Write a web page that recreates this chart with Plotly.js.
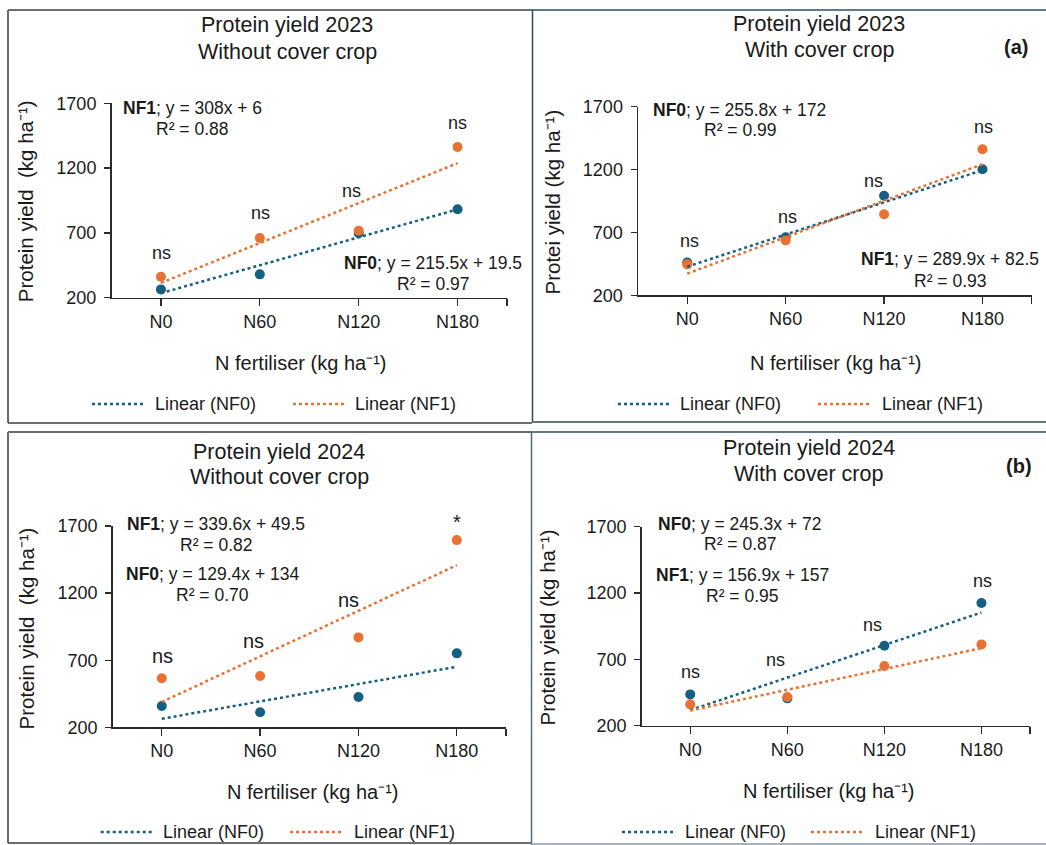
<!DOCTYPE html>
<html>
<head>
<meta charset="utf-8">
<script src="https://cdn.plot.ly/plotly-3.0.1.min.js"></script>
<style>html,body{margin:0;padding:0;background:#fff;}#chart{width:1046px;height:845px;}</style>
</head>
<body>
<div id="chart"></div>
<script>
// ---------- data ----------
const categories = ['N0', 'N60', 'N120', 'N180'];
const yTicks = [200, 700, 1200, 1700];

// Protein yield (kg ha-1)
const yield2023_noCover_NF0 = [264, 380, 697, 882];
const yield2023_noCover_NF1 = [362, 661, 717, 1363];
const yield2023_cover_NF0   = [460, 661, 992, 1202];
const yield2023_cover_NF1   = [446, 637, 844, 1361];
const yield2024_noCover_NF0 = [359, 312, 426, 751];
const yield2024_noCover_NF1 = [565, 582, 870, 1595];
const yield2024_cover_NF0   = [436, 406, 803, 1125];
const yield2024_cover_NF1   = [361, 416, 650, 813];

// linear trend coefficients (from the equations printed on the chart)
const slopeNF0     = [215.5, 255.8, 129.4, 245.3];
const interceptNF0 = [19.5, 172, 134, 72];
const slopeNF1     = [308, 289.9, 339.6, 156.9];
const interceptNF1 = [6, 82.5, 49.5, 157];

const panelTitles = [
  ['Protein yield 2023', 'Without cover crop'],
  ['Protein yield 2023', 'With cover crop'],
  ['Protein yield 2024', 'Without cover crop'],
  ['Protein yield 2024', 'With cover crop']
];
const yTitles = ['Protein yield  (kg ha⁻¹)', 'Protei yield (kg ha⁻¹)', 'Protein yield  (kg ha⁻¹)', 'Protein yield (kg ha⁻¹)'];
const xTitle = 'N fertiliser (kg ha⁻¹)';
const eqNF0 = ['<b>NF0</b>; y = 215.5x + 19.5', '<b>NF0</b>; y = 255.8x + 172', '<b>NF0</b>; y = 129.4x + 134', '<b>NF0</b>; y = 245.3x + 72'];
const r2NF0 = ['R² = 0.97', 'R² = 0.99', 'R² = 0.70', 'R² = 0.87'];
const eqNF1 = ['<b>NF1</b>; y = 308x + 6', '<b>NF1</b>; y = 289.9x + 82.5', '<b>NF1</b>; y = 339.6x + 49.5', '<b>NF1</b>; y = 156.9x + 157'];
const r2NF1 = ['R² = 0.88', 'R² = 0.93', 'R² = 0.82', 'R² = 0.95'];
const sigLabels = [
  ['ns', 'ns', 'ns', 'ns'],
  ['ns', 'ns', 'ns', 'ns'],
  ['ns', 'ns', 'ns', '*'],
  ['ns', 'ns', 'ns', 'ns']
];
const legendLabels = ['Linear (NF0)', 'Linear (NF1)'];

const seriesNF0 = [yield2023_noCover_NF0, yield2023_cover_NF0, yield2024_noCover_NF0, yield2024_cover_NF0];
const seriesNF1 = [yield2023_noCover_NF1, yield2023_cover_NF1, yield2024_noCover_NF1, yield2024_cover_NF1];

// ---------- layout geometry (pixels) ----------
const W = 1046, H = 845;
const BLUE = '#156082', ORANGE = '#E97132', INK = '#1a1a1a', AX = '#2b2b2b';
const FONT = 'Liberation Sans, Arial, sans-serif';
const PX = x => x / W;
const PY = y => 1 - y / H;

const geo = [
  { x0: 111.5, x1: 507, yTop: 103.3, yBot: 297.7,
    title: [287.3, 25, 51.7], tfs: 21.5,
    eqA: [192, 108.3, 129.3], eqB: [432.6, 263.3, 284], eqTopIsNF1: true,
    sig: [[161, 253.3], [260, 213.3], [351, 190.7], [457, 122.7]], sfs: 18,
    xt: [300, 363.3], yt: [25.4, 200.8],
    leg: { y: 404, l1: [92, 145], t1: 153, l2: [293, 347], t2: 353 } },
  { x0: 638, x1: 1031.7, yTop: 106.7, yBot: 295.3,
    title: [819, 24, 50], tfs: 21.5,
    eqA: [739.5, 110, 130], eqB: [950, 259, 281], eqTopIsNF1: false,
    sig: [[689, 241], [787, 217.3], [873, 180.7], [983, 126.7]], sfs: 18,
    xt: [835, 363.3], yt: [552, 202.5],
    leg: { y: 404, l1: [618, 670], t1: 678, l2: [818, 870], t2: 880 },
    tag: ['(a)', 1016, 47] },
  { x0: 112.6, x1: 506, yTop: 526, yBot: 727.3,
    title: [279.4, 451.7, 477.3], tfs: 21.5,
    eqA: [216.3, 524, 545], eqB: [212.6, 574, 595], eqTopIsNF1: true,
    sig: [[162, 656], [253.5, 640.7], [348, 600], [457, 522]], sfs: 20,
    xt: [312.6, 791.7], yt: [26.4, 628],
    leg: { y: 832, l1: [100.7, 152.8], t1: 160.6, l2: [290, 343], t2: 351.5 } },
  { x0: 641.7, x1: 1030, yTop: 526.7, yBot: 725.7,
    title: [808.5, 448, 474], tfs: 21.5,
    eqA: [739.5, 524, 544.3], eqB: [742, 575, 596], eqTopIsNF1: false,
    sig: [[690, 671.7], [775, 660], [872.7, 625], [982, 580.7]], sfs: 18,
    xt: [828, 791], yt: [547, 627.5],
    leg: { y: 832, l1: [622, 674], t1: 683, l2: [811, 863], t2: 873 },
    tag: ['(b)', 1019, 466] }
];

const traces = [];
const layout = {
  width: W, height: H,
  margin: { l: 0, r: 0, t: 0, b: 0 },
  paper_bgcolor: '#fff', plot_bgcolor: 'rgba(0,0,0,0)',
  showlegend: false,
  font: { family: FONT, color: INK },
  annotations: [], shapes: []
};

const xIdx = categories.map((c, i) => i);

function ann(text, x, y, size, extra) {
  layout.annotations.push(Object.assign({
    text: text, xref: 'paper', yref: 'paper', x: PX(x), y: PY(y),
    xanchor: 'center', yanchor: 'middle', showarrow: false,
    font: { family: FONT, size: size, color: INK }
  }, extra || {}));
}
function seg(x0, y0, x1, y1, color, width, dash) {
  layout.shapes.push({ type: 'line', xref: 'paper', yref: 'paper',
    x0: PX(x0), y0: PY(y0), x1: PX(x1), y1: PY(y1),
    line: { color: color, width: width, dash: dash || 'solid' } });
}

geo.forEach((g, p) => {
  const sfx = p === 0 ? '' : String(p + 1);
  const xa = 'x' + sfx, ya = 'y' + sfx;

  // points
  traces.push({ type: 'scatter', mode: 'markers', x: xIdx, y: seriesNF0[p], xaxis: xa, yaxis: ya,
    name: 'NF0', marker: { color: BLUE, size: 10 }, cliponaxis: false, hoverinfo: 'y' });
  traces.push({ type: 'scatter', mode: 'markers', x: xIdx, y: seriesNF1[p], xaxis: xa, yaxis: ya,
    name: 'NF1', marker: { color: ORANGE, size: 10 }, cliponaxis: false, hoverinfo: 'y' });
  // linear trend lines
  traces.push({ type: 'scatter', mode: 'lines', x: xIdx, y: xIdx.map(i => slopeNF0[p] * (i + 1) + interceptNF0[p]),
    xaxis: xa, yaxis: ya, name: legendLabels[0], line: { color: BLUE, width: 2.5, dash: 'dot' }, hoverinfo: 'skip' });
  traces.push({ type: 'scatter', mode: 'lines', x: xIdx, y: xIdx.map(i => slopeNF1[p] * (i + 1) + interceptNF1[p]),
    xaxis: xa, yaxis: ya, name: legendLabels[1], line: { color: ORANGE, width: 2.5, dash: 'dot' }, hoverinfo: 'skip' });

  layout['xaxis' + sfx] = {
    domain: [PX(g.x0), PX(g.x1)], anchor: ya, range: [-0.5, 3.5],
    tickmode: 'array', tickvals: [0, 1, 2, 3, 3.5], ticktext: categories.concat(['']),
    ticks: 'outside', ticklen: 7, tickwidth: 1.3, tickcolor: AX,
    showline: true, linecolor: AX, linewidth: 1.5, showgrid: false, zeroline: false,
    tickfont: { family: FONT, size: 18, color: INK }, ticklabelstandoff: 1.5, fixedrange: true
  };
  layout['yaxis' + sfx] = {
    domain: [PY(g.yBot), PY(g.yTop)], anchor: xa, range: [200, 1700],
    tickmode: 'array', tickvals: yTicks,
    ticks: 'outside', ticklen: 6, tickwidth: 1.3, tickcolor: AX,
    showline: true, linecolor: AX, linewidth: 1.5, showgrid: false, zeroline: false,
    tickfont: { family: FONT, size: 18, color: INK }, ticklabelstandoff: 4, fixedrange: true
  };

  // titles
  ann(panelTitles[p][0], g.title[0], g.title[1], g.tfs);
  ann(panelTitles[p][1], g.title[0], g.title[2], g.tfs);
  if (g.tag) ann('<b>' + g.tag[0] + '</b>', g.tag[1], g.tag[2], 20);

  // equations
  const topEq = g.eqTopIsNF1 ? [eqNF1[p], r2NF1[p]] : [eqNF0[p], r2NF0[p]];
  const botEq = g.eqTopIsNF1 ? [eqNF0[p], r2NF0[p]] : [eqNF1[p], r2NF1[p]];
  ann(topEq[0], g.eqA[0], g.eqA[1], 17.5);
  ann(topEq[1], g.eqA[0], g.eqA[2], 17.5);
  ann(botEq[0], g.eqB[0], g.eqB[1], 17.5);
  ann(botEq[1], g.eqB[0], g.eqB[2], 17.5);

  // significance labels
  g.sig.forEach((s, i) => ann(sigLabels[p][i], s[0], s[1], g.sfs));

  // axis titles
  ann(xTitle, g.xt[0], g.xt[1], 20);
  ann(yTitles[p], g.yt[0], g.yt[1], 20.5, { textangle: -90 });

  // legend
  seg(g.leg.l1[0], g.leg.y, g.leg.l1[1], g.leg.y, BLUE, 2.5, 'dot');
  seg(g.leg.l2[0], g.leg.y, g.leg.l2[1], g.leg.y, ORANGE, 2.5, 'dot');
  ann(legendLabels[0], g.leg.t1, g.leg.y, 18, { xanchor: 'left' });
  ann(legendLabels[1], g.leg.t2, g.leg.y, 18, { xanchor: 'left' });
});

// panel borders
const DARK = '#3c3c3c', TEAL = '#2f4d5e';
// top-left
seg(8, 10, 532, 10, DARK, 1.5); seg(8, 10, 8, 423, '#6a6a6a', 2); seg(8, 423, 532, 423, DARK, 1.5);
// top-right
seg(532, 10, 1046, 10, TEAL, 1.5); seg(532.5, 10, 532.5, 422, TEAL, 1.5); seg(532, 422, 1046, 422, TEAL, 1.5);
// bottom-left
seg(8, 432, 531, 432, DARK, 1.5); seg(8, 432, 8, 843, '#6a6a6a', 2); seg(8, 843, 531, 843, DARK, 1.5);
// bottom-right
seg(531, 432, 1046, 432, TEAL, 1.5); seg(531.5, 432, 531.5, 845, '#4d6b7c', 1.5); seg(531, 844, 1046, 844, '#8899a6', 1.5);

Plotly.newPlot('chart', traces, layout, { staticPlot: true, displayModeBar: false });
</script>
</body>
</html>
